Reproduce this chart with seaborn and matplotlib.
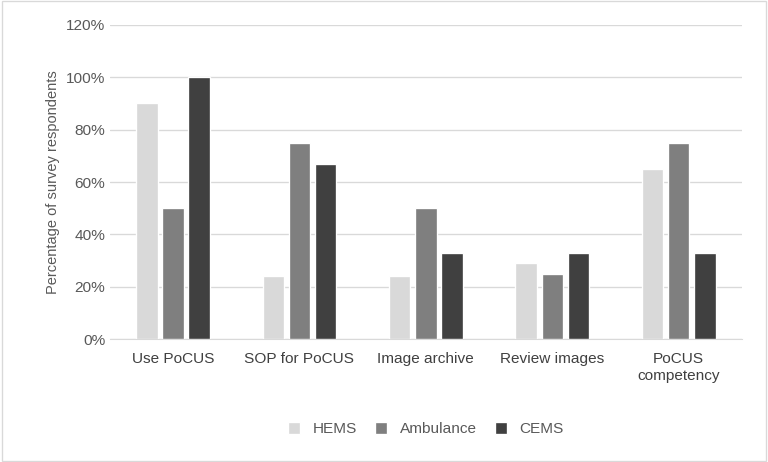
import matplotlib
matplotlib.use("Agg")
import matplotlib.pyplot as plt
import seaborn as sns
import pandas as pd

categories = ["Use PoCUS", "SOP for PoCUS", "Image archive", "Review images", "PoCUS\ncompetency"]
hems = [90, 24, 24, 29, 65]
ambulance = [50, 75, 50, 25, 75]
cems = [100, 67, 33, 33, 33]
groups = ["HEMS", "Ambulance", "CEMS"]
palette = {"HEMS": "#d9d9d9", "Ambulance": "#7f7f7f", "CEMS": "#404040"}

df = pd.DataFrame({
    "cat": categories * 3,
    "group": ["HEMS"] * 5 + ["Ambulance"] * 5 + ["CEMS"] * 5,
    "val": hems + ambulance + cems,
})

sns.set_style("white")
plt.rcParams["font.family"] = ["Liberation Sans", "DejaVu Sans"]

fig = plt.figure(figsize=(8, 4.8125), dpi=96)
ax = fig.add_axes([0.143, 0.266, 0.823, 0.68])
sns.barplot(data=df, x="cat", y="val", hue="group", palette=palette,
            width=0.62, gap=0.18, ax=ax, legend=True, saturation=1)
ax.set_ylim(0, 120)
ax.set_yticks(range(0, 121, 20))
ax.set_yticklabels([f"{v}%" for v in range(0, 121, 20)], color="#595959", fontsize=11.5)
ax.tick_params(axis="x", labelsize=11.5, colors="#404040", length=0, pad=10)
ax.tick_params(axis="y", length=0)
ax.yaxis.grid(True, color="#d9d9d9", linewidth=1)
ax.set_axisbelow(True)
for s in ["top", "right", "left"]:
    ax.spines[s].set_visible(False)
ax.spines["bottom"].set_color("#d9d9d9")
ax.set_xlabel("")
ax.set_ylabel("Percentage of survey respondents", color="#595959", fontsize=11)
ax.legend(loc="upper center", bbox_to_anchor=(0.5, -0.22), ncol=3, frameon=False,
          fontsize=11.5, handlelength=0.8, handleheight=0.8, columnspacing=1.2,
          labelcolor="#595959")
fig.patches.append(plt.Rectangle((0.002, 0.002), 0.996, 0.996, transform=fig.transFigure,
                                 fill=False, edgecolor="#d9d9d9", linewidth=1))
fig.savefig("out.png", dpi=96)
